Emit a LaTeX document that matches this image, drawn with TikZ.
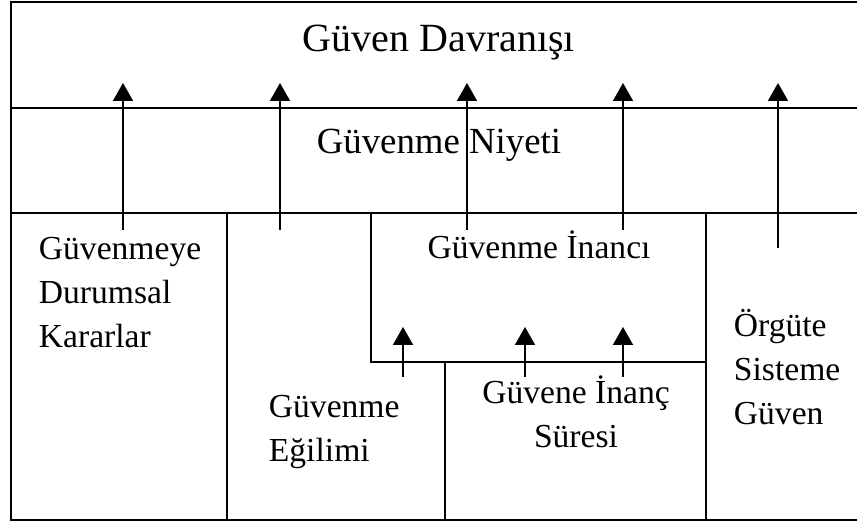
\documentclass[tikz,border=0pt]{standalone}
\usepackage{fontspec}
\setmainfont{Liberation Serif}
\usetikzlibrary{arrows.meta}

\begin{document}
\begin{tikzpicture}[x=0.5pt,y=-0.5pt,line width=0.9pt,
    arr/.style={-{Triangle[width=10pt,length=9pt]}},
    big/.style={font=\fontsize{20}{24}\selectfont,inner sep=0pt},
    mid/.style={font=\fontsize{18.4}{22}\selectfont,inner sep=0pt},
    txt/.style={font=\fontsize{16.8}{22}\selectfont,inner sep=0pt}]
  \useasboundingbox (0,0) rectangle (857,523);
  % frame and bands
  \draw (857,2) -- (11,2) -- (11,520) -- (857,520);
  \draw (11,108) -- (857,108);
  \draw (11,213) -- (857,213);
  % inner boxes
  \draw (227,213) -- (227,520);
  \draw (371,213) -- (371,362) -- (706,362);
  \draw (445,362) -- (445,520);
  \draw (706,213) -- (706,520);
  % labels (base = last line)
  \node[big,anchor=base] (davr) at (439,52) {Güven Davranışı};
  \node[mid,anchor=base] (niyet) at (439,154) {Güvenme Niyeti};
  \node[txt,anchor=base] (inanc) at (539,259) {Güvenme İnancı};
  \node[txt,anchor=base west,align=left] (durum) at (38,348)
    {Güvenmeye\\Durumsal\\Kararlar};
  \node[txt,anchor=base west,align=left] (egilim) at (268,462)
    {Güvenme\\Eğilimi};
  \node[txt,anchor=base,align=center] (sure) at (576,448)
    {Güvene İnanç\\Süresi};
  \node[txt,anchor=base west,align=left] (orgut) at (733,425)
    {Örgüte\\Sisteme\\Güven};
  % arrows to the top band
  \foreach \i/\xa/\ya in {1/123/230,2/280/230,3/467/230,4/623/230,5/778/248} {
    \coordinate (s\i) at (\xa,\ya);
    \coordinate (t\i) at (\xa,83);
    \draw[arr] (s\i) -- (t\i);
  }
  % arrows into the belief box
  \foreach \i/\xa in {1/403,2/525,3/623} {
    \coordinate (u\i) at (\xa,377);
    \coordinate (v\i) at (\xa,327);
    \draw[arr] (u\i) -- (v\i);
  }
\end{tikzpicture}
\end{document}
